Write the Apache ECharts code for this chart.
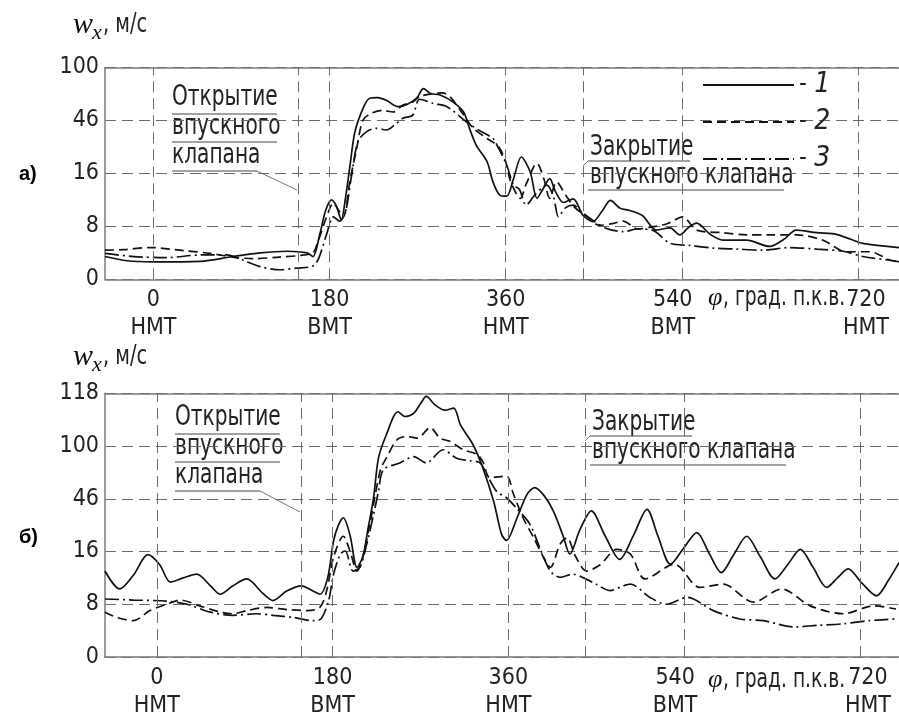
<!DOCTYPE html>
<html><head><meta charset="utf-8">
<script src="https://cdn.jsdelivr.net/npm/echarts@6/dist/echarts.min.js"></script>
<style>html,body{margin:0;padding:0;background:#fff}#c{width:899px;height:720px}</style>
</head><body><div id="c"></div><script>
// ---- data (y values are in axis "levels": each level = one labelled gridline) ----
const angleTicks = [0, 180, 360, 540, 720];
const angleTickNames = ['НМТ', 'ВМТ', 'НМТ', 'ВМТ', 'НМТ'];
const valveOpenAngle = 148;
const valveCloseAngle = 439;
const levelLabelsA = ['0', '8', '16', '46', '100'];
const levelLabelsB = ['0', '8', '16', '46', '100', '118'];
const seriesNames = ['1', '2', '3'];

// panel а)
const a1 = [[-49.5,0.43],[-27,0.35],[0,0.33],[48,0.34],[81,0.43],[109,0.5],[137,0.53],[157,0.5],[163,0.43],[170,0.85],[176,1.3],[182,1.5],[187,1.38],[192,1.12],[196,1.5],[201,2.16],[206,2.79],[215,3.26],[221,3.42],[229,3.43],[238,3.38],[250,3.26],[259,3.3],[269,3.42],[276,3.6],[283,3.51],[293,3.48],[306,3.35],[317,3.16],[323,2.85],[330,2.53],[341,2.22],[347,1.84],[354,1.59],[361,1.57],[368,1.9],[376,2.31],[385,2.03],[392,1.53],[398,1.7],[405,1.9],[411,1.65],[419,1.45],[429,1.52],[439,1.21],[449,1.09],[459,1.3],[467,1.49],[477,1.34],[487,1.3],[500,1.2],[514,0.93],[528,0.97],[538,0.84],[547,0.98],[555,1.06],[569,0.85],[582,0.74],[606,0.74],[630,0.62],[644,0.75],[657,0.93],[678,0.88],[698,0.85],[712,0.76],[725,0.68],[762,0.6]];
const a2 = [[-49.5,0.55],[-30,0.56],[-3,0.6],[31,0.54],[58,0.49],[81,0.42],[102,0.39],[129,0.42],[150,0.45],[163,0.5],[167,0.65],[177,1.18],[184,1.44],[189,1.31],[194,1.18],[201,1.87],[208,2.5],[214,3.0],[222,3.13],[234,3.19],[245,3.16],[255,3.29],[265,3.35],[272,3.45],[286,3.51],[295,3.52],[303,3.45],[316,3.13],[327,2.85],[341,2.66],[353,2.5],[360,2.22],[365,1.85],[375,1.53],[381,1.8],[392,2.19],[399,1.9],[405,1.53],[412,1.84],[421,1.6],[431,1.35],[442,1.2],[456,1.02],[469,1.05],[480,1.1],[495,0.95],[510,0.99],[525,1.05],[541,1.18],[555,0.93],[582,0.88],[606,0.84],[630,0.84],[657,0.84],[684,0.74],[708,0.52],[732,0.52],[753,0.36],[762,0.33]];
const a3 = [[-49.5,0.49],[-20,0.43],[14,0.41],[48,0.46],[75,0.46],[89,0.38],[109,0.24],[129,0.18],[146,0.21],[163,0.25],[169,0.4],[177,0.85],[184,1.18],[190,1.1],[196,1.25],[202,1.9],[209,2.6],[218,2.79],[228,2.85],[238,2.82],[248,2.94],[255,3.04],[265,3.1],[272,3.4],[286,3.32],[300,3.26],[320,2.97],[334,2.8],[347,2.66],[352,2.5],[361,2.16],[368,1.78],[374,1.7],[381,1.4],[390,1.6],[402,1.78],[409,1.55],[414,1.18],[421,1.35],[429,1.4],[439,1.25],[450,1.1],[463,0.96],[480,0.9],[495,0.95],[510,0.93],[528,0.68],[548,0.64],[572,0.59],[596,0.57],[623,0.55],[650,0.6],[678,0.57],[705,0.53],[725,0.43],[753,0.36],[762,0.33]];

// panel б)
const b1 = [[-53,1.63],[-38,1.29],[-24,1.55],[-9,1.94],[3,1.75],[14,1.42],[27,1.5],[41,1.57],[55,1.35],[65,1.19],[78,1.35],[92,1.48],[109,1.2],[119,1.07],[133,1.25],[148,1.35],[160,1.25],[167,1.19],[175,1.5],[181,2.2],[186,2.5],[191,2.64],[198,2.3],[205,1.7],[211,1.9],[216,2.4],[222,3.02],[227,3.77],[235,4.21],[247,4.65],[254,4.56],[263,4.62],[270,4.8],[276,4.94],[285,4.78],[295,4.68],[304,4.72],[311,4.4],[324,4.02],[334,3.58],[345,2.95],[353,2.33],[358,2.21],[369,2.64],[379,3.08],[387,3.21],[397,3.05],[406,2.77],[416,2.3],[423,1.95],[433,2.4],[445,2.77],[459,2.3],[474,1.85],[488,2.3],[502,2.8],[513,2.3],[526,1.76],[539,2.05],[553,2.36],[566,1.95],[578,1.6],[591,1.95],[604,2.29],[618,1.9],[633,1.48],[646,1.75],[659,2.04],[672,1.7],[686,1.32],[697,1.5],[708,1.67],[722,1.4],[737,1.16],[749,1.45],[760,1.79]];
const b2 = [[-53,0.85],[-41,0.75],[-24,0.69],[-7,0.88],[10,1.0],[24,1.08],[44,0.97],[65,0.85],[78,0.82],[92,0.88],[113,0.94],[133,0.9],[154,0.88],[167,0.94],[174,1.26],[181,1.89],[191,2.29],[198,2.0],[205,1.63],[211,1.9],[218,2.5],[229,3.55],[235,3.77],[246,4.12],[256,4.18],[267,4.15],[280,4.35],[290,4.15],[300,4.09],[314,3.93],[328,3.84],[334,3.7],[341,3.4],[358,3.43],[365,3.1],[375,2.64],[386,2.26],[396,1.89],[403,1.7],[413,2.14],[420,2.26],[429,1.9],[440,1.63],[454,1.75],[471,2.04],[485,1.95],[500,1.48],[530,1.76],[556,1.32],[580,1.38],[611,1.04],[640,1.29],[669,0.97],[703,0.82],[734,0.97],[757,0.91]];
const b3 = [[-53,1.1],[-24,1.08],[10,1.06],[31,1.0],[55,0.85],[78,0.79],[102,0.82],[119,0.79],[140,0.75],[160,0.69],[168,0.72],[176,1.07],[181,1.57],[188,1.95],[193,2.01],[201,1.63],[208,1.7],[215,2.14],[222,2.7],[227,3.14],[232,3.55],[249,3.68],[263,3.8],[276,3.68],[293,3.93],[307,3.77],[321,3.72],[331,3.68],[338,3.46],[348,3.14],[358,3.02],[368,2.83],[382,2.52],[392,2.08],[403,1.63],[413,1.51],[426,1.57],[437,1.5],[450,1.38],[464,1.26],[478,1.35],[485,1.38],[505,1.13],[522,1.0],[543,1.13],[570,0.88],[597,0.72],[621,0.69],[652,0.57],[676,0.6],[703,0.63],[730,0.69],[757,0.72]];

// visible angle range of each panel (the drawing is cut at the right edge)
const rangeA = [-49.5, 762];
const rangeB = [-53, 760];

// ---- styling ----
const NARROW = '"Liberation Sans Narrow","DejaVu Sans Condensed","Arial Narrow",sans-serif';
const SERIF = '"Liberation Serif","DejaVu Serif",serif';
const INK = '#111';
const GRID = '#6a6a6a';
const FRAME = '#7a7a7a';
const dashTypes = ['solid', [9, 5], [14, 4, 2, 4]];

const chart = echarts.init(document.getElementById('c'), null, {renderer: 'canvas'});

const lblBase = {fontFamily: NARROW, fontSize: 23, lineHeight: 28, color: '#222'};
function xAxisFor(gi, range) {
  return {
    gridIndex: gi, type: 'value', min: range[0], max: range[1], position: 'bottom',
    axisLine: {show: true, onZero: false, lineStyle: {color: FRAME, width: 1.5}},
    axisTick: {show: false},
    splitLine: {show: false},
    axisLabel: Object.assign({
      customValues: angleTicks, margin: 7,
      rich: {
        t: lblBase,
        sL: Object.assign({}, lblBase, {width: 18}),
        sR: Object.assign({}, lblBase, {width: 16})
      },
      formatter: v => {
        const i = angleTicks.indexOf(v);
        if (i < 0) return '';
        if (v === 540) return '{t|' + v + '}{sL| }\n{t|' + angleTickNames[i] + '}{sL| }';
        if (v === 720) return '{sR| }{t|' + v + '}\n{sR| }{t|' + angleTickNames[i] + '}';
        return '{t|' + v + '}\n{t|' + angleTickNames[i] + '}';
      }
    }, lblBase)
  };
}
function topFrame(gi, range) {
  return {
    gridIndex: gi, type: 'value', min: range[0], max: range[1], position: 'top',
    axisLine: {show: true, onZero: false, lineStyle: {color: FRAME, width: 1.5}},
    axisTick: {show: false}, axisLabel: {show: false}, splitLine: {show: false}
  };
}
function yAxisFor(gi, labels) {
  return {
    gridIndex: gi, type: 'value', min: 0, max: labels.length - 1, interval: 1,
    axisLine: {show: true, onZero: false, lineStyle: {color: FRAME, width: 1.5}},
    axisTick: {show: false},
    splitLine: {show: true, lineStyle: {color: GRID, width: 1, type: [11, 6]}},
    axisLabel: {margin: 6, color: '#222', fontFamily: NARROW, fontSize: 23, formatter: v => labels[v] ?? ''}
  };
}
function vLines() {
  return {
    silent: true, symbol: ['none', 'none'], animation: false,
    label: {show: false},
    lineStyle: {color: GRID, width: 1, type: [11, 6]},
    data: angleTicks.concat([valveOpenAngle, valveCloseAngle]).map(v => ({xAxis: v}))
  };
}
function mk(name, data, gi, k) {
  const s = {
    name, type: 'line', xAxisIndex: gi, yAxisIndex: gi, data,
    symbol: 'none', showSymbol: false, smooth: 0.3, animation: false,
    lineStyle: {color: INK, width: 1.7, type: dashTypes[k]}, itemStyle: {color: INK}
  };
  if (k === 0) s.markLine = vLines();
  return s;
}

const SX = 0.8; // horizontal squeeze to imitate the narrow drafting font
function txt(x, y, text, size) {
  return {type: 'text', x, y, scaleX: SX, silent: true,
    style: {text, font: size + 'px ' + NARROW, fill: '#222', align: 'left', verticalAlign: 'top'}};
}
function ln(x1, y1, x2, y2, w, c) {
  return {type: 'line', silent: true, shape: {x1, y1, x2, y2}, style: {stroke: c || '#444', lineWidth: w || 1}};
}
function wLabel(x, y) {
  return [
    {type: 'text', x, y, silent: true, style: {text: 'w', font: 'italic 30px ' + SERIF, fill: '#111', verticalAlign: 'top'}},
    {type: 'text', x: x + 19, y: y + 12, silent: true, style: {text: 'x', font: 'italic 22px ' + SERIF, fill: '#111', verticalAlign: 'top'}},
    {type: 'text', x: x + 30, y: y + 1, scaleX: SX, silent: true, style: {text: ', м/с', font: '27px ' + NARROW, fill: '#222', verticalAlign: 'top'}}
  ];
}
function phiLabel(x, y) {
  return [
    {type: 'text', x, y, silent: true, style: {text: 'φ', font: 'italic 26px ' + SERIF, fill: '#111', verticalAlign: 'top'}},
    {type: 'text', x: x + 15, y: y, scaleX: SX, silent: true, style: {text: ', град. п.к.в.', font: '26px ' + NARROW, fill: '#222', verticalAlign: 'top'}}
  ];
}
function openNote(x, yTop, leadTo) {
  return [
    txt(x, yTop, 'Открытие', 28), ln(x, yTop + 30, x + 105, yTop + 30),
    txt(x, yTop + 29, 'впускного', 28), ln(x, yTop + 58, x + 105, yTop + 58),
    txt(x, yTop + 58, 'клапана', 28), ln(x, yTop + 87, x + 85, yTop + 87),
    ln(x + 85, yTop + 87, leadTo[0], leadTo[1], 1, '#777')
  ];
}
function closeNote(x, yTop) {
  return [
    txt(x + 2, yTop, 'Закрытие', 28), ln(x, yTop + 27, x + 102, yTop + 27),
    ln(x - 5, yTop + 32, x, yTop + 27, 1, '#777'),
    txt(x + 2, yTop + 28, 'впускного клапана', 28), ln(x, yTop + 56, x + 196, yTop + 56)
  ];
}

const graphics = [].concat(
  [{type: 'text', x: 19, y: 164, silent: true, style: {text: 'а)', font: 'bold 20px "Liberation Sans",Arial,sans-serif', fill: '#000', verticalAlign: 'top'}},
   {type: 'text', x: 19, y: 527, silent: true, style: {text: 'б)', font: 'bold 20px "Liberation Sans",Arial,sans-serif', fill: '#000', verticalAlign: 'top'}}],
  wLabel(73, 10), wLabel(73, 342),
  phiLabel(708, 285), phiLabel(708, 667),
  openNote(172, 84, [297, 190]), openNote(175, 404, [300, 512]),
  closeNote(588, 134), closeNote(590, 409)
);

const option = {
  backgroundColor: '#fff',
  animation: false,
  grid: [
    {left: 105, right: 0, top: 67.5, bottom: 440.7, show: false, containLabel: false},
    {left: 105, right: 0, top: 393.3, bottom: 61.7, show: false, containLabel: false}
  ],
  xAxis: [xAxisFor(0, rangeA), xAxisFor(1, rangeB), topFrame(0, rangeA), topFrame(1, rangeB)],
  yAxis: [yAxisFor(0, levelLabelsA), yAxisFor(1, levelLabelsB)],
  legend: {
    orient: 'vertical', left: 697, top: 65, itemWidth: 91, itemHeight: 14, itemGap: 7,
    selectedMode: false, data: seriesNames,
    itemStyle: {opacity: 0, color: 'transparent', borderWidth: 0},
    lineStyle: {width: 2},
    textStyle: {fontFamily: NARROW, fontSize: 26, lineHeight: 30, color: '#222',
      rich: {d: {fontFamily: NARROW, fontSize: 24, color: '#222'}, n: {fontFamily: NARROW, fontSize: 28, fontStyle: 'italic', color: '#222'}}},
    formatter: n => '{d|-} {n|' + n + '}'
  },
  series: [
    mk(seriesNames[0], a1, 0, 0), mk(seriesNames[1], a2, 0, 1), mk(seriesNames[2], a3, 0, 2),
    mk(seriesNames[0], b1, 1, 0), mk(seriesNames[1], b2, 1, 1), mk(seriesNames[2], b3, 1, 2)
  ],
  graphic: graphics
};
chart.setOption(option);
</script></body></html>
